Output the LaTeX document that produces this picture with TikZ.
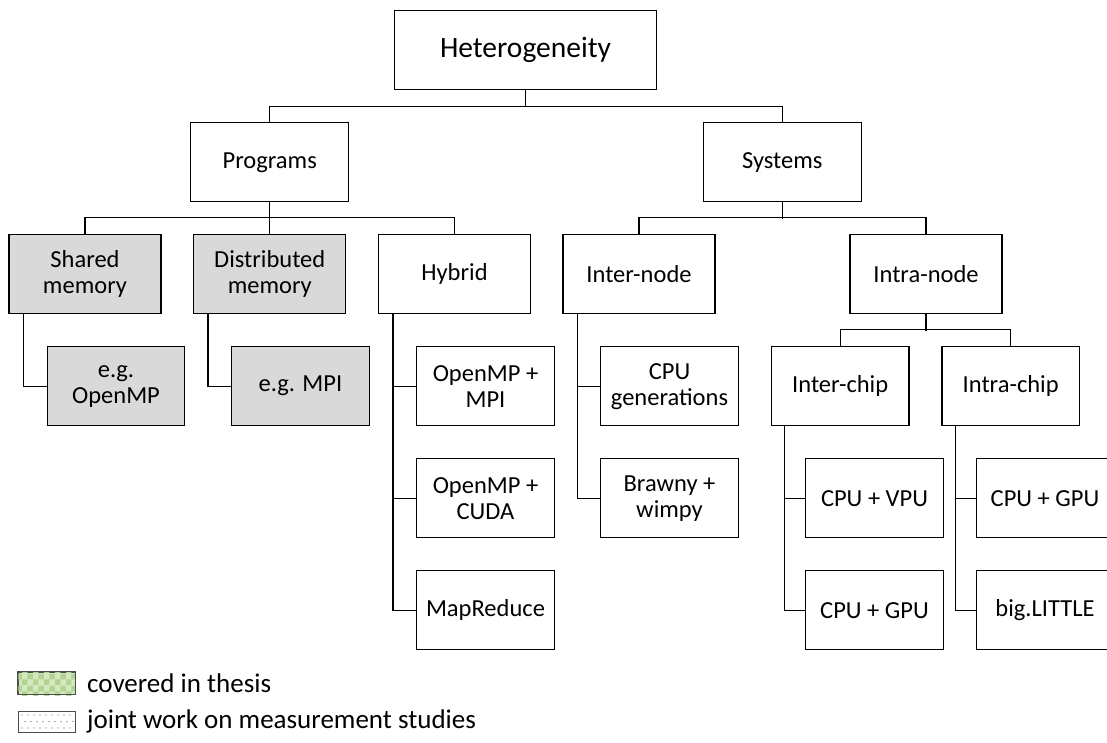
\documentclass[tikz,border=0pt]{standalone}
\usepackage{fontspec}
\setmainfont{Carlito}
\usetikzlibrary{patterns}
\definecolor{boxgray}{RGB}{217,217,217}
\definecolor{legA}{RGB}{214,232,192}
\definecolor{legAdark}{RGB}{178,212,146}
\tikzset{
  box/.style={draw=black, line width=1.3pt, fill=white, align=center, inner sep=0pt,
    minimum height=79pt, font=\fontsize{24.5}{26}\selectfont},
  wide/.style={box, minimum width=152pt},
  top/.style={box, minimum width=158pt},
  kid/.style={box, minimum width=137.5pt},
  shade/.style={fill=boxgray},
  conn/.style={draw=black, line width=1.3pt},
  legtext/.style={anchor=west, inner sep=0pt, font=\fontsize{27}{30}\selectfont}
}
\begin{document}
\begin{tikzpicture}[x=1pt,y=-1pt]
\useasboundingbox (0,0) rectangle (1107,742);
\clip (0,0) rectangle (1107,742);
% level 1
\node[box, minimum width=262pt, font=\fontsize{29.5}{32}\selectfont] (het) at (525.5,50.2) {Heterogeneity};
% level 2
\node[top] (prog) at (269.7,162.3) {Programs};
\node[top] (sys) at (782.3,162.3) {Systems};
% level 3
\node[wide, shade] (shm) at (85,274.2) {Shared\\memory};
\node[wide, shade] (dsm) at (269.75,274.2) {Distributed\\memory};
\node[wide] (hyb) at (454.5,274.2) {Hybrid};
\node[wide] (inn) at (639,274.2) {Inter-node};
\node[wide] (ian) at (926,274.2) {Intra-node};
% children
\node[kid, shade] (eomp) at (116,386.2) {e.g.\\OpenMP};
\node[kid, shade] (empi) at (300.5,386.2) {e.g. MPI};
\node[kid] (h1) at (485.5,386.2) {OpenMP +\\MPI};
\node[kid] (h2) at (485.5,498.2) {OpenMP +\\CUDA};
\node[kid] (h3) at (485.5,610.2) {MapReduce};
\node[kid] (n1) at (669.5,386.2) {CPU\\generations};
\node[kid] (n2) at (669.5,498.2) {Brawny +\\wimpy};
\node[kid] (ich) at (840.2,386.2) {Inter-chip};
\node[kid] (ach) at (1010.7,386.2) {Intra-chip};
\node[kid] (c1) at (874.5,498.2) {CPU + VPU};
\node[kid] (c2) at (874.5,610.2) {CPU + GPU};
\node[kid] (d1) at (1045,498.2) {CPU + GPU};
\node[kid] (d2) at (1045,610.2) {big.LITTLE};
% tree connectors
\draw[conn] (het.south) -- ++(0,16.5);
\draw[conn] (prog.north) -- ++(0,-16) -| (sys.north);
\draw[conn] (prog.south) -- ++(0,16.3);
\draw[conn] (shm.north) -- ++(0,-16.4) -| (hyb.north);
\draw[conn] (dsm.north) -- ++(0,-16.4);
\draw[conn] (sys.south) -- ++(0,16.3);
\draw[conn] (inn.north) -- ++(0,-16.4) -| (ian.north);
\draw[conn] (ian.south) -- ++(0,16.3);
\draw[conn] (ich.north) -- ++(0,-16.4) -| (ach.north);
% elbows
\draw[conn] ([xshift=15pt]shm.south west) |- (eomp.west);
\draw[conn] ([xshift=15pt]dsm.south west) |- (empi.west);
\draw[conn] ([xshift=15pt]hyb.south west) |- (h3.west);
\draw[conn] ([xshift=15pt]hyb.south west) |- (h1.west);
\draw[conn] ([xshift=15pt]hyb.south west) |- (h2.west);
\draw[conn] ([xshift=15pt]inn.south west) |- (n2.west);
\draw[conn] ([xshift=15pt]inn.south west) |- (n1.west);
\draw[conn] ([xshift=14pt]ich.south west) |- (c2.west);
\draw[conn] ([xshift=14pt]ich.south west) |- (c1.west);
\draw[conn] ([xshift=14pt]ach.south west) |- (d2.west);
\draw[conn] ([xshift=14pt]ach.south west) |- (d1.west);
% legend
\node[draw=black!70, line width=1pt, fill=legA, minimum width=56.7pt, minimum height=22pt, inner sep=0pt] (la) at (46.7,683) {};
\fill[pattern=checkerboard, pattern color=legAdark] ([shift={(0.5pt,-0.5pt)}]la.south west) rectangle ([shift={(-0.5pt,0.5pt)}]la.north east);
\draw[black!70, line width=1pt] (la.south west) rectangle (la.north east);
\node[legtext] (lat) at (87,683) {covered in thesis};
\node[draw=black!70, line width=1pt, fill=white, minimum width=56.7pt, minimum height=21pt, inner sep=0pt] (lb) at (46.7,721.5) {};
\foreach \yy/\off in {715/0,721.5/3,728/0}{
  \foreach \xx in {22,28,...,70}{
    \fill[black!60] (\xx+\off,\yy) circle (0.6pt);
  }
}
\node[legtext] (lbt) at (87,721.5) {joint work on measurement studies};
\end{tikzpicture}
\end{document}
